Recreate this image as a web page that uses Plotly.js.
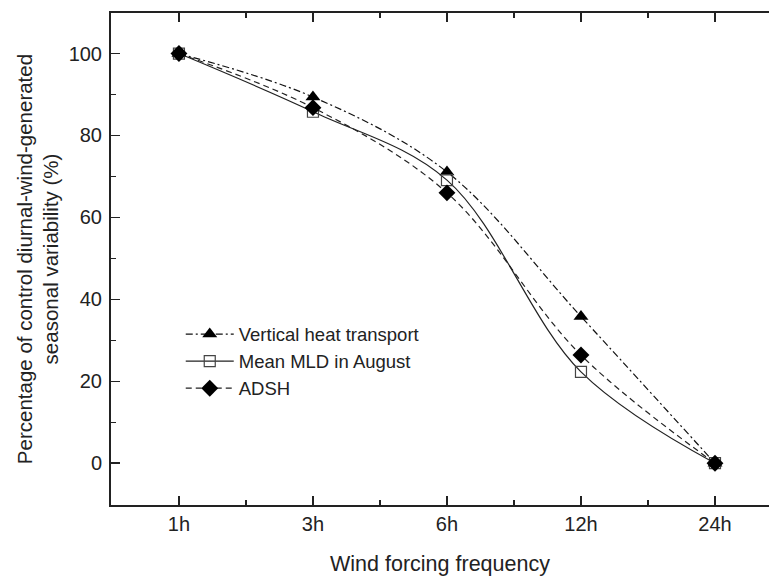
<!DOCTYPE html>
<html>
<head>
<meta charset="utf-8">
<script src="https://cdn.plot.ly/plotly-3.0.1.min.js"></script>
<style>html,body{margin:0;padding:0;overflow:hidden;background:#fff;}</style>
</head>
<body>
<div id="chart" style="width:769px;height:578px;"></div>
<script>
const categories = ['1h', '3h', '6h', '12h', '24h'];
const verticalHeat = [100, 89.4, 71.1, 35.8, 0];
const meanMLD = [100, 85.8, 69.1, 22.3, 0];
const adsh = [100, 86.8, 66.0, 26.4, 0];
const yTicks = [0, 20, 40, 60, 80, 100];

const xIdx = categories.map((c, i) => i);
const font = 'Liberation Sans, Arial, sans-serif';

const traces = [
  {
    x: xIdx, y: verticalHeat, name: 'Vertical heat transport',
    mode: 'lines+markers',
    line: {shape: 'spline', smoothing: 1, color: '#111', width: 1.2, dash: '7px,3px,2px,3px'},
    marker: {symbol: 'triangle-up', size: 13, color: '#000'}
  },
  {
    x: xIdx, y: meanMLD, name: 'Mean MLD in August',
    mode: 'lines+markers',
    line: {shape: 'spline', smoothing: 1, color: '#222', width: 1.2},
    marker: {symbol: 'square-open', size: 11, color: '#444', line: {width: 1.2}}
  },
  {
    x: xIdx, y: adsh, name: 'ADSH',
    mode: 'lines+markers',
    line: {shape: 'spline', smoothing: 1, color: '#222', width: 1.2, dash: '6px,4px'},
    marker: {symbol: 'diamond', size: 13, color: '#000'}
  }
];

const layout = {
  width: 769, height: 578,
  margin: {l: 111, r: 0, t: 13, b: 73},
  paper_bgcolor: '#fff', plot_bgcolor: '#fff',
  font: {family: font, color: '#222', size: 20},
  showlegend: true,
  legend: {
    x: 0.106, y: 0.385, xanchor: 'left', yanchor: 'top',
    bgcolor: 'rgba(0,0,0,0)',
    itemwidth: 48,
    font: {family: font, size: 18.5, color: '#222'},
    tracegroupgap: 0
  },
  xaxis: {
    range: [-0.507, 4.403],
    tickmode: 'array', tickvals: xIdx, ticktext: categories,
    ticks: 'inside', ticklen: 9, tickwidth: 1.5, tickcolor: '#222',
    minor: {tickmode: 'array', tickvals: [0.5, 1.5, 2.5, 3.5], ticks: 'inside', ticklen: 5, tickwidth: 1.5, tickcolor: '#222'},
    showline: true, linecolor: '#222', linewidth: 2, mirror: 'allticks',
    showgrid: false, zeroline: false,
    tickfont: {family: font, size: 20, color: '#222'},
    title: {text: 'Wind forcing frequency', font: {family: font, size: 21.5, color: '#222'}, standoff: 22}
  },
  yaxis: {
    range: [-10.2, 109.9],
    tickmode: 'array', tickvals: yTicks,
    ticks: 'inside', ticklen: 9, tickwidth: 1.5, tickcolor: '#222',
    minor: {tickmode: 'array', tickvals: [-10, 10, 30, 50, 70, 90], ticks: 'inside', ticklen: 5, tickwidth: 1.5, tickcolor: '#222'},
    showline: true, linecolor: '#222', linewidth: 2, mirror: false,
    showgrid: false, zeroline: false,
    ticklabelstandoff: 3,
    tickfont: {family: font, size: 20, color: '#222'},
    title: {text: 'Percentage of control diurnal-wind-generated<br>seasonal variability (%)', font: {family: font, size: 20.5, color: '#222'}, standoff: 4}
  }
};

Plotly.newPlot('chart', traces, layout, {displayModeBar: false, staticPlot: true});
</script>
</body>
</html>
